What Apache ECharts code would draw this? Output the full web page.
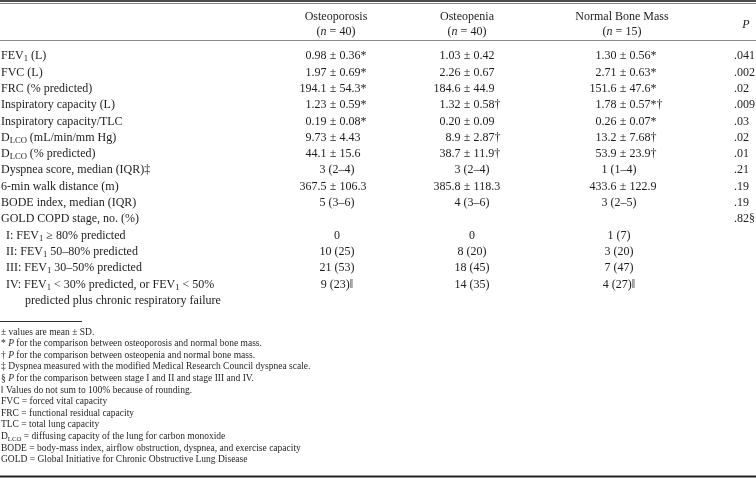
<!DOCTYPE html>
<html>
<head>
<meta charset="utf-8">
<script src="https://cdn.jsdelivr.net/npm/echarts@6/dist/echarts.min.js"></script>
<style>
  html, body { margin: 0; padding: 0; background: #fff; }
  #chart { width: 756px; height: 479px; }
</style>
</head>
<body>
<div id="chart"></div>
<script>
// --- table content ---
const groups = ['Osteoporosis', 'Osteopenia', 'Normal Bone Mass'];
const groupN = [40, 40, 15];

const rowLabels = [
  'FEV{s|1} (L)',
  'FVC (L)',
  'FRC (% predicted)',
  'Inspiratory capacity (L)',
  'Inspiratory capacity/TLC',
  'D{s|LCO} (mL/min/mm Hg)',
  'D{s|LCO} (% predicted)',
  'Dyspnea score, median (IQR)‡',
  '6-min walk distance (m)',
  'BODE index, median (IQR)',
  'GOLD COPD stage, no. (%)',
  'I: FEV{s|1} ≥ 80% predicted',
  'II: FEV{s|1} 50–80% predicted',
  'III: FEV{s|1} 30–50% predicted',
  'IV: FEV{s|1} < 30% predicted, or FEV{s|1} < 50%',
  'predicted plus chronic respiratory failure'
];

const osteoporosis = ['0.98 ± 0.36*', '1.97 ± 0.69*', '194.1 ± 54.3*', '1.23 ± 0.59*', '0.19 ± 0.08*',
  '9.73 ± 4.43', '44.1 ± 15.6', '3 (2–4)', '367.5 ± 106.3', '5 (3–6)', '', '0', '10 (25)', '21 (53)', '9 (23)‖', ''];
const osteopenia = ['1.03 ± 0.42', '2.26 ± 0.67', '184.6 ± 44.9', '1.32 ± 0.58†', '0.20 ± 0.09',
  '8.9 ± 2.87†', '38.7 ± 11.9†', '3 (2–4)', '385.8 ± 118.3', '4 (3–6)', '', '0', '8 (20)', '18 (45)', '14 (35)', ''];
const normalBone = ['1.30 ± 0.56*', '2.71 ± 0.63*', '151.6 ± 47.6*', '1.78 ± 0.57*†', '0.26 ± 0.07*',
  '13.2 ± 7.68†', '53.9 ± 23.9†', '1 (1–4)', '433.6 ± 122.9', '3 (2–5)', '', '1 (7)', '3 (20)', '7 (47)', '4 (27)‖', ''];
const pValues = ['.041', '.002', '.02', '.009', '.03', '.02', '.01', '.21', '.19', '.19', '.82§', '', '', '', '', ''];

const footnotes = [
  '± values are mean ± SD.',
  '* {i|P} for the comparison between osteoporosis and normal bone mass.',
  '† {i|P} for the comparison between osteopenia and normal bone mass.',
  '‡ Dyspnea measured with the modified Medical Research Council dyspnea scale.',
  '§ {i|P} for the comparison between stage I and II and stage III and IV.',
  '‖ Values do not sum to 100% because of rounding.',
  'FVC = forced vital capacity',
  'FRC = functional residual capacity',
  'TLC = total lung capacity',
  'D{s|LCO} = diffusing capacity of the lung for carbon monoxide',
  'BODE = body-mass index, airflow obstruction, dyspnea, and exercise capacity',
  'GOLD = Global Initiative for Chronic Obstructive Lung Disease'
];

// --- layout ---
const W = 756;
const FAMILY = '"Liberation Serif", "Times New Roman", serif';
const INK = '#1c1c1c';
const bodyTop = 48;
const rowH = 16.3;
const colX = [1, 333, 467, 623, 734];   // label, three groups (± anchor), P
const plainShift = [0, 4, 5, -4];
const indent = [0, 0, 0, 0, 0, 0, 0, 0, 0, 0, 0, 5, 5, 5, 5, 24];
const headY = [17, 32];
const footTop = 332;
const footH = 11.6;

const valueCols = [null, osteoporosis, osteopenia, normalBone];

function richFor(size) {
  return {
    s: { font: (size * 0.72).toFixed(1) + 'px ' + FAMILY, verticalAlign: 'bottom', lineHeight: size * 0.75 },
    i: { font: 'italic ' + size + 'px ' + FAMILY }
  };
}
const bodyFont = '12px ' + FAMILY;
const footFont = '9.5px ' + FAMILY;

function txt(text, x, y, align, font, size) {
  return {
    type: 'text', x: x, y: y,
    style: { text: text, font: font, fill: INK, align: align, verticalAlign: 'middle',
      lineHeight: size * 1.25, rich: richFor(size) }
  };
}

// one data item per drawn cell: [anchor x, row index, column index]
const cells = [];
rowLabels.forEach((_, r) => {
  cells.push([colX[0], r, 0]);
  for (let c = 1; c <= 3; c++) if (valueCols[c][r]) cells.push([colX[c], r, c]);
  if (pValues[r]) cells.push([colX[4], r, 4]);
});

function renderCell(params, api) {
  const r = api.value(1), c = api.value(2);
  const pt = api.coord([api.value(0), r]);
  const x = pt[0], y = pt[1];
  if (c === 0) return txt(rowLabels[r], x + indent[r], y, 'left', bodyFont, 12);
  if (c === 4) return txt(pValues[r], x, y, 'left', bodyFont, 12);
  const s = valueCols[c][r];
  const parts = s.split(' ± ');
  if (parts.length === 2) {
    // line the mean ± SD cells up on the ± sign
    return {
      type: 'group',
      children: [
        txt(parts[0], x - 6.6, y, 'right', bodyFont, 12),
        txt('±', x, y, 'center', bodyFont, 12),
        txt(parts[1], x + 6.6, y, 'left', bodyFont, 12)
      ]
    };
  }
  return txt(s, x + plainShift[c], y, 'center', bodyFont, 12);
}

const graphics = [
  { type: 'line', shape: { x1: 0, y1: 1, x2: W, y2: 1 }, style: { stroke: '#111', lineWidth: 1.6 } },
  { type: 'line', shape: { x1: 0, y1: 3.5, x2: W, y2: 3.5 }, style: { stroke: '#666', lineWidth: 0.8 } },
  { type: 'line', shape: { x1: 0, y1: 40.5, x2: W, y2: 40.5 }, style: { stroke: '#8a8a8a', lineWidth: 1 } },
  { type: 'line', shape: { x1: 0, y1: 321.5, x2: 82, y2: 321.5 }, style: { stroke: '#333', lineWidth: 1 } },
  { type: 'line', shape: { x1: 0, y1: 476.5, x2: W, y2: 476.5 }, style: { stroke: '#222', lineWidth: 2 } }
];
const headCenters = [336, 467, 622];
groups.forEach((g, i) => {
  graphics.push(txt(g, headCenters[i], headY[0], 'center', bodyFont, 12));
  graphics.push(txt('({i|n} = ' + groupN[i] + ')', headCenters[i], headY[1], 'center', bodyFont, 12));
});
graphics.push(txt('{i|P}', 746, (headY[0] + headY[1]) / 2, 'center', bodyFont, 12));
footnotes.forEach((f, i) => {
  const t = txt(f, 1, footTop + i * footH, 'left', footFont, 9.5);
  t.style.fill = '#262626';
  graphics.push(t);
});

const chart = echarts.init(document.getElementById('chart'), null, { renderer: 'canvas' });
chart.setOption({
  animation: false,
  grid: { left: 0, right: 0, top: bodyTop, height: rowH * rowLabels.length },
  xAxis: { type: 'value', min: 0, max: W, show: false },
  yAxis: { type: 'category', data: rowLabels.map((_, i) => i), inverse: true, show: false },
  graphic: graphics,
  series: [{
    type: 'custom',
    coordinateSystem: 'cartesian2d',
    encode: { x: 0, y: 1 },
    data: cells,
    renderItem: renderCell,
    silent: true
  }]
});
</script>
</body>
</html>
